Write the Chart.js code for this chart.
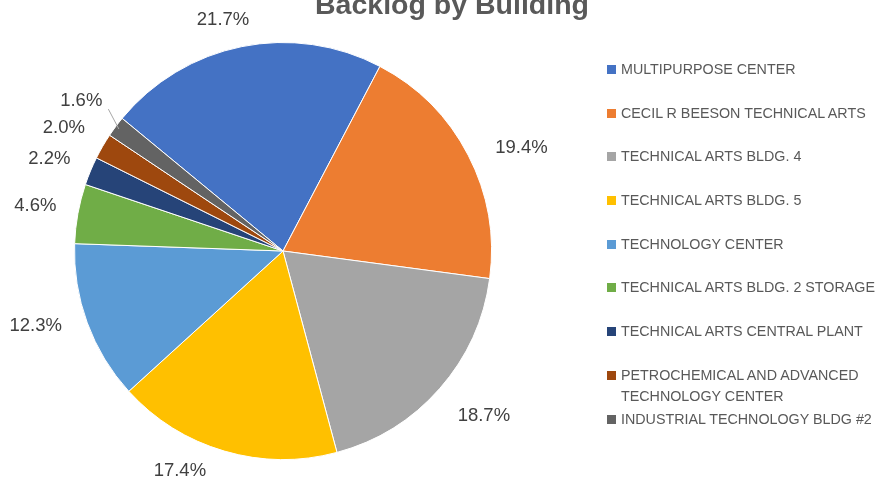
<!DOCTYPE html>
<html>
<head>
<meta charset="utf-8">
<script src="https://cdn.jsdelivr.net/npm/chart.js@4.4.1/dist/chart.umd.min.js"></script>
<style>
  body { margin: 0; background: #fff; }
  #wrap { position: relative; width: 882px; height: 487px; overflow: hidden; }
  #legend { position: absolute; left: 607px; top: 59px; margin: 0; padding: 0; list-style: none;
            font-family: "Liberation Sans", Arial, sans-serif; font-size: 14.3px; color: #595959; }
  #legend li { position: relative; height: 43.7px; width: 262px; padding-left: 14px; line-height: 21px; }
  #legend li span.box { position: absolute; left: 0; top: 6px; width: 9px; height: 9px; }
</style>
</head>
<body>
<div id="wrap">
  <canvas id="chart" width="882" height="487"></canvas>
  <ul id="legend"></ul>
</div>
<script>
// chart data
const buildings = [
    'MULTIPURPOSE CENTER',
    'CECIL R BEESON TECHNICAL ARTS',
    'TECHNICAL ARTS BLDG. 4',
    'TECHNICAL ARTS BLDG. 5',
    'TECHNOLOGY CENTER',
    'TECHNICAL ARTS BLDG. 2 STORAGE',
    'TECHNICAL ARTS CENTRAL PLANT',
    'PETROCHEMICAL AND ADVANCED TECHNOLOGY CENTER',
    'INDUSTRIAL TECHNOLOGY BLDG #2'
];
const backlogShare = [21.7, 19.4, 18.7, 17.4, 12.3, 4.6, 2.2, 2.0, 1.6];
const sliceColors = ['#4472C4', '#ED7D31', '#A5A5A5', '#FFC000', '#5B9BD5', '#70AD47', '#264478', '#9E480E', '#636363'];

document.addEventListener('DOMContentLoaded', () => {

    // labels outside the pie, nudged the way Excel placed them
    const labelNudge = [[-10, -1], [14, 5], [11, 10], [-32, -5], [-10, -6], [-4, -3], [-5, -2], [-5, -5], [-3, -10]];

    const outsideLabels = {
        id: 'outsideLabels',
        afterDatasetsDraw(chart) {
            const ctx = chart.ctx;
            const arcs = chart.getDatasetMeta(0).data;
            ctx.save();
            ctx.font = '18.5px "Liberation Sans", Arial, sans-serif';
            ctx.fillStyle = '#404040';
            ctx.textAlign = 'center';
            ctx.textBaseline = 'middle';
            arcs.forEach((arc, i) => {
                const mid = (arc.startAngle + arc.endAngle) / 2;
                const c = Math.cos(mid), s = Math.sin(mid);
                const text = backlogShare[i].toFixed(1) + '%';
                const w = ctx.measureText(text).width;
                const px = arc.x + (arc.outerRadius + 18) * c;
                const py = arc.y + (arc.outerRadius + 18) * s;
                const x = px + w / 2 * c + labelNudge[i][0];
                const y = py + 8 * s + labelNudge[i][1];
                ctx.fillText(text, x, y);
                if (i === arcs.length - 1) {
                    // leader line for the smallest slice
                    ctx.strokeStyle = '#A6A6A6';
                    ctx.lineWidth = 1;
                    ctx.beginPath();
                    ctx.moveTo(x + w / 2 + 6, y + 8);
                    ctx.lineTo(arc.x + (arc.outerRadius - 4) * c, arc.y + (arc.outerRadius - 4) * s);
                    ctx.stroke();
                }
            });
            // title, partly cut by the top edge
            ctx.font = 'bold 28.5px "Liberation Sans", Arial, sans-serif';
            ctx.fillStyle = '#595959';
            ctx.textBaseline = 'alphabetic';
            ctx.fillText('Backlog by Building', 452, 14);
            ctx.restore();
        }
    };

    new Chart(document.getElementById('chart'), {
        type: 'pie',
        data: {
            labels: buildings,
            datasets: [{
                data: backlogShare,
                backgroundColor: sliceColors,
                borderColor: '#ffffff',
                borderWidth: 1
            }]
        },
        options: {
            responsive: false,
            animation: false,
            rotation: -50.5,
            layout: { padding: { left: 74, right: 390, top: 42, bottom: 27 } },
            plugins: {
                legend: { display: false },
                tooltip: { enabled: false }
            }
        },
        plugins: [outsideLabels]
    });

    const legend = document.getElementById('legend');
    buildings.forEach((name, i) => {
        const li = document.createElement('li');
        const box = document.createElement('span');
        box.className = 'box';
        box.style.background = sliceColors[i];
        li.appendChild(box);
        li.appendChild(document.createTextNode(name));
        legend.appendChild(li);
    });
});
</script>
</body>
</html>
